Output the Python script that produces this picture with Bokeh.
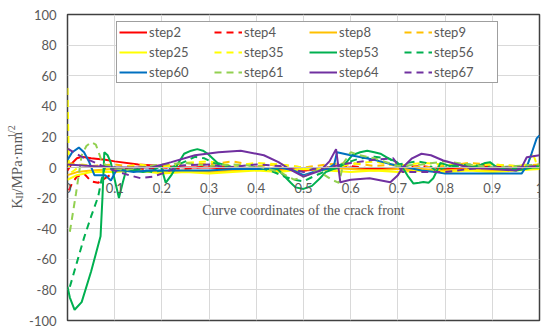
from bokeh.plotting import figure
from bokeh.models import Range1d, FixedTicker, NumeralTickFormatter, Legend, LegendItem, Label
from bokeh.layouts import row
from bokeh.embed import file_html
from bokeh.resources import INLINE
import math

# ---------------- data ----------------
x_grid = [0, 0.02, 0.05, 0.1, 0.15, 0.2, 0.25, 0.3, 0.35, 0.4, 0.45, 0.5, 0.55, 0.6,
          0.65, 0.7, 0.75, 0.8, 0.85, 0.9, 0.95, 1.0]

step2_x = [0, 0.01, 0.02, 0.03, 0.05, 0.08, 0.1, 0.15, 0.2, 0.25, 0.3, 0.35, 0.4, 0.45,
           0.5, 0.55, 0.6, 0.65, 0.7, 0.75, 0.8, 0.85, 0.88, 0.9, 0.95, 1.0]
step2_y = [-2, 3, 6, 7, 6, 5, 4, 2, 1, 0, 0, -1, 0, -1, -2, -1, 0, -1, -1, -2, -1, 0, 2, -1, 0, 1]

step4_x = [0.003, 0.01, 0.02, 0.035, 0.05, 0.065, 0.08, 0.1, 0.13, 0.16, 0.2, 0.25, 0.3, 0.35,
           0.4, 0.45, 0.5, 0.55, 0.6, 0.65, 0.7, 0.75, 0.8, 0.85, 0.9, 0.95, 1.0]
step4_y = [-15, -10, -6, -4, -9, -10, -7, -3, 0, -1, 0, -1, 1, 0, -1, 0, -2, 0, 1, -1, 0, 1, -1, 0, 1, -1, 0]

step8_y = [-5, -3, -2, -1, -2, -3, -2, -3, -2, -1, -2, -1, 0, -1, -2, -1, -1, -2, -1, -2, -1, 0]
step9_y = [3, 2, 1, 2, 0, 1, 3, 2, 4, 1, 2, 0, 2, 3, 1, 2, 0, 1, 3, 2, 1, 2]
step25_y = [-8, -5, -3, -3, -2, -4, -3, -4, -3, -2, -3, -1, -2, -3, -2, -3, -2, -3, -2, -3, -2, -1]

step35_x = [0, 0.003, 0.01, 0.03, 0.05, 0.1, 0.15, 0.2, 0.25, 0.3, 0.35, 0.4, 0.45, 0.5,
            0.55, 0.6, 0.65, 0.7, 0.75, 0.8, 0.85, 0.9, 0.95, 0.975, 0.985, 0.992, 1.0]
step35_y = [52, 0, -3, 2, 1, -1, 2, 0, 3, 4, 1, 3, 2, 0, -1, 2, 4, 1, 3, 2, 1, 2, 1, 2, 10, 4, 0]

step53_x = [0, 0.005, 0.015, 0.03, 0.05, 0.07, 0.074, 0.078, 0.085, 0.092, 0.1, 0.109, 0.117,
            0.124, 0.14, 0.16, 0.18, 0.198, 0.208, 0.22, 0.235, 0.247, 0.262, 0.275, 0.287,
            0.297, 0.318, 0.35, 0.38, 0.41, 0.445, 0.473, 0.483, 0.5, 0.518, 0.535, 0.547,
            0.563, 0.575, 0.59, 0.603, 0.62, 0.635, 0.65, 0.663, 0.68, 0.698, 0.71, 0.722,
            0.733, 0.745, 0.754, 0.765, 0.775, 0.783, 0.79, 0.81, 0.83, 0.85, 0.87, 0.885,
            0.895, 0.91, 0.93, 0.95, 0.97, 0.985, 1.0]
step53_y = [-78, -85, -93, -88, -68, -45, -20, 10, 8, 3, -8, -20, -10, -2, -2, -3, -2, 1, -10,
            -5, 3, 9, 11, 12, 11, 9, 3, 0, -1, -1, -1, -10, -13, -14, -12, -7, -3, -1, 0, 3,
            8, 10, 11, 10, 9, 6, 3.5, 0, -6, -10.5, -10, -9.5, -10, -7, -2, 3, 1, 2, 0, 1, 3,
            3.5, 0, -1, -2, -1, 0, 0]

step56_x = [0.005, 0.02, 0.035, 0.05, 0.065, 0.072, 0.08, 0.09, 0.1, 0.12, 0.15, 0.18, 0.2,
            0.22, 0.25, 0.27, 0.29, 0.31, 0.33, 0.36, 0.4, 0.43, 0.46, 0.48, 0.5, 0.52, 0.55,
            0.57, 0.6, 0.62, 0.65, 0.68, 0.7, 0.72, 0.74, 0.76, 0.78, 0.8, 0.85, 0.9, 0.95, 1.0]
step56_y = [-78, -62, -46, -32, -19, -8, 1, -1, 0, -2, -1, -3, -2, 0, 4, 7, 6, 3, 1, 0, 0, -2,
            -6, -8, -9, -6, -2, 1, 4, 6, 7, 6, 2, 3, 4, 3, -2, 0, 2, 0, -1, 1]

step60_x = [0, 0.01, 0.024, 0.035, 0.046, 0.057, 0.07, 0.08, 0.092, 0.103, 0.12, 0.14, 0.17,
            0.2, 0.25, 0.3, 0.35, 0.4, 0.45, 0.48, 0.5, 0.52, 0.55, 0.565, 0.571, 0.6, 0.65,
            0.7, 0.72, 0.75, 0.78, 0.8, 0.85, 0.9, 0.962, 0.975, 0.983, 0.994, 1.0]
step60_y = [5, 10, 13, 10, 3.5, -5, -5, -5, -8.5, -2, -2, -3, -2, -2, -2, -2, -1, -1, 0, -2,
            -5, -3, -1, 2, 10, 8, 5, 1, 0, -2, -3, -4, -4, -4, -4, 2, 9, 19, 21]

step61_x = [0.005, 0.018, 0.03, 0.04, 0.05, 0.06, 0.074, 0.085, 0.1, 0.12, 0.15, 0.2, 0.25,
            0.3, 0.35, 0.4, 0.45, 0.48, 0.5, 0.53, 0.56, 0.575, 0.585, 0.6, 0.62, 0.65, 0.7,
            0.75, 0.8, 0.85, 0.9, 0.95, 1.0]
step61_y = [-42, -17, 8, 14, 16.5, 15, 3, 1, 0, -2, 0, 2, 3, 1, 2, 1, -3, -8, -6, -2, -8, -10,
            3, 10, 8, 6, 1, 2, 4, 2, 0, 1, 2]

step64_x = [0, 0.05, 0.1, 0.15, 0.178, 0.22, 0.27, 0.32, 0.367, 0.416, 0.447, 0.47, 0.5,
            0.536, 0.555, 0.569, 0.578, 0.6, 0.64, 0.684, 0.7, 0.71, 0.73, 0.75, 0.77, 0.796,
            0.85, 0.9, 0.95, 0.962, 0.973, 1.0]
step64_y = [2, 1, 0, 0, 0, 3.5, 8, 10, 11, 8, 3.5, -1, -6, -2, 4, 12, -9.6, -8, -7, -9.6, -5,
            0, 6, 9, 8, 4.6, 0, -1, -2, 0, 6.7, 8]

step67_x = [0, 0.032, 0.06, 0.08, 0.1, 0.13, 0.155, 0.18, 0.2, 0.24, 0.3, 0.339, 0.4, 0.45,
            0.5, 0.52, 0.55, 0.6, 0.65, 0.69, 0.71, 0.76, 0.8, 0.85, 0.9, 0.95, 1.0]
step67_y = [12.4, 6.7, 3, 0, -2, -5, -7, -6, -4, 1.3, 2, 0, 2, 1, -3, -1, 0, 3, 5, 6, -3, -3,
            -3, -1, 0, 0, 1]

x_ticks = [0, 0.1, 0.2, 0.3, 0.4, 0.5, 0.6, 0.7, 0.8, 0.9, 1.0]
y_ticks = [-100, -80, -60, -40, -20, 0, 20, 40, 60, 80, 100]

# ---------------- styles ----------------
RED = "#FF0000"
ORANGE = "#FFC000"
YELLOW = "#FFFF00"
GREEN = "#00B050"
BLUE = "#0070C0"
LGREEN = "#92D050"
PURPLE = "#7030A0"
GREY = "#595959"

series = [
    ("step2", step2_x, step2_y, RED, "solid"),
    ("step4", step4_x, step4_y, RED, "dashed"),
    ("step8", x_grid, step8_y, ORANGE, "solid"),
    ("step9", x_grid, step9_y, ORANGE, "dashed"),
    ("step25", x_grid, step25_y, YELLOW, "solid"),
    ("step35", step35_x, step35_y, YELLOW, "dashed"),
    ("step53", step53_x, step53_y, GREEN, "solid"),
    ("step56", step56_x, step56_y, GREEN, "dashed"),
    ("step60", step60_x, step60_y, BLUE, "solid"),
    ("step61", step61_x, step61_y, LGREEN, "dashed"),
    ("step64", step64_x, step64_y, PURPLE, "solid"),
    ("step67", step67_x, step67_y, PURPLE, "dashed"),
]

W_T = 26          # width of the strip holding the y-axis title
H = 334

# ---------- y-axis title strip ----------
t = figure(width=W_T, height=H, output_backend="svg", toolbar_location=None,
           x_range=Range1d(0, W_T), y_range=Range1d(0, H),
           x_axis_location=None, y_axis_location=None, min_border=0)
t.outline_line_color = None
t.grid.visible = False
t.background_fill_color = "white"
t.border_fill_color = "white"

fs = 15
pieces = [
    ("K", 0, fs, 0.722 * fs),
    ("II", 3, 10, 0.666 * 10),
    ("/MPa·mm", 0, fs, 3.973 * fs),
    ("1/2", -5, 10, 1.278 * 10),
]
cy = H - 212
for txt, dx, size, w in pieces:
    t.add_layout(Label(x=16 + dx, y=cy, text=txt,
                       angle=math.pi / 2, text_align="left", text_baseline="middle",
                       text_font="Liberation Serif", text_font_size=f"{size}px",
                       text_color=GREY))
    cy += w

# ---------- main chart ----------
p = figure(width=550 - W_T, height=H, output_backend="svg", toolbar_location=None,
           x_range=Range1d(0, 1), y_range=Range1d(-100, 100))
p.min_border_left = 66 - W_T
p.min_border_right = 11
p.min_border_top = 14
p.min_border_bottom = 14
p.outline_line_color = "#404040"
p.outline_line_width = 1.5
p.background_fill_color = "white"
p.border_fill_color = "white"

items = []
for name, xs, ys, color, style in series:
    dash = "7 5" if style == "dashed" else "solid"
    r = p.line(xs, ys, line_color=color, line_width=2, line_dash=dash)
    items.append(LegendItem(label=name, renderers=[r]))

p.xgrid.ticker = FixedTicker(ticks=x_ticks)
p.ygrid.ticker = FixedTicker(ticks=y_ticks)
p.xgrid.grid_line_color = "#d9d9d9"
p.ygrid.grid_line_color = "#d9d9d9"

xa = p.xaxis[0]
xa.fixed_location = 0
xa.ticker = FixedTicker(ticks=x_ticks)
xa.formatter = NumeralTickFormatter(format="0.[0]")
xa.major_tick_line_color = None
xa.minor_tick_line_color = None
xa.axis_line_color = "#bfbfbf"
xa.major_label_standoff = 9
xa.major_label_text_font = "Lato"
xa.major_label_text_font_size = "13px"
xa.major_label_text_color = GREY
xa.axis_label = "Curve coordinates of the crack front"
xa.axis_label_text_font = "Liberation Serif"
xa.axis_label_text_font_size = "14px"
xa.axis_label_text_font_style = "normal"
xa.axis_label_text_color = GREY
xa.axis_label_standoff = 7

ya = p.yaxis[0]
ya.ticker = FixedTicker(ticks=y_ticks)
ya.formatter = NumeralTickFormatter(format="0")
ya.major_tick_line_color = None
ya.minor_tick_line_color = None
ya.major_tick_out = 0
ya.major_tick_in = 0
ya.minor_tick_out = 0
ya.minor_tick_in = 0
ya.axis_line_color = None
ya.major_label_standoff = 11
ya.major_label_text_font = "Lato"
ya.major_label_text_font_size = "13px"
ya.major_label_text_color = GREY

legend = Legend(items=items, orientation="horizontal", ncols=4, location=(49, 237))
legend.glyph_width = 28
legend.glyph_height = 12
legend.label_height = 12
legend.label_width = 61
legend.label_standoff = 2
legend.spacing = 4
legend.padding = 2
legend.margin = 0
legend.label_text_font = "Lato"
legend.label_text_font_size = "13px"
legend.label_text_color = GREY
legend.border_line_color = "#404040"
legend.border_line_width = 1.3
legend.background_fill_alpha = 1
p.add_layout(legend)

layout = row(t, p, spacing=0)
open("out.html", "w").write(file_html(layout, INLINE))
